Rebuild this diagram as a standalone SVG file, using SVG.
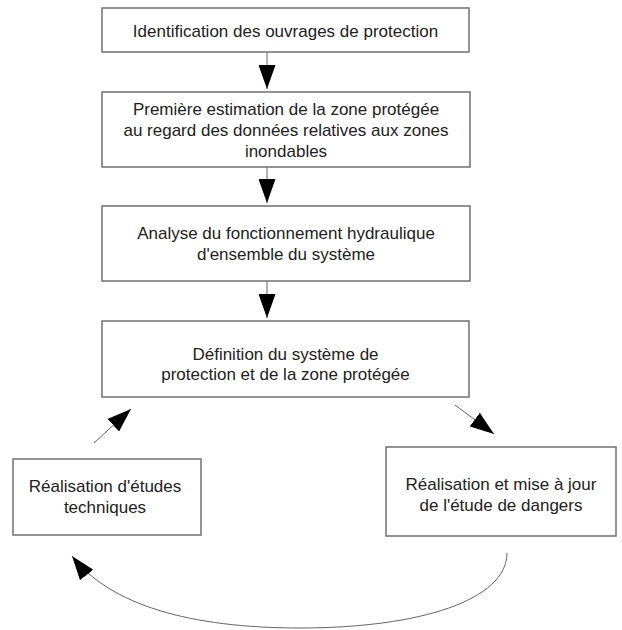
<svg xmlns="http://www.w3.org/2000/svg" width="622" height="630" viewBox="0 0 622 630">
<defs>
<style>
.box{fill:#fff;stroke:#707070;stroke-width:1.5}
.t{font-family:"Liberation Sans",Arial,sans-serif;font-size:17px;fill:#222;text-anchor:middle}
.c{fill:none;stroke:#666;stroke-width:1}
</style>
<marker id="ah" markerUnits="userSpaceOnUse" markerWidth="24" markerHeight="17" refX="24" refY="8.5" orient="auto" viewBox="0 0 24 17">
<path d="M0,0 L24,8.5 L0,17 Z" fill="#000"/>
</marker>
</defs>
<rect width="622" height="630" fill="#fff"/>
<g id="connectors">
<line class="c" x1="267" y1="52" x2="267" y2="89" marker-end="url(#ah)"/>
<line class="c" x1="267" y1="167" x2="267" y2="203" marker-end="url(#ah)"/>
<line class="c" x1="267" y1="281" x2="267" y2="318" marker-end="url(#ah)"/>
<line class="c" x1="94" y1="443" x2="131" y2="409" marker-end="url(#ah)"/>
<line class="c" x1="455" y1="405" x2="494" y2="434" marker-end="url(#ah)"/>
<path class="c" d="M507,553 C507,600 420,628 300,628 C190,628 110,605 72,556" marker-end="url(#ah)"/>
</g>
<g id="n1">
<rect class="box" x="102" y="8" width="367" height="44"/>
<text class="t" x="285.5" y="37">Identification des ouvrages de protection</text>
</g>
<g id="n2">
<rect class="box" x="102" y="92" width="368" height="75"/>
<text class="t" x="286" y="115">Première estimation de la zone protégée</text>
<text class="t" x="286" y="136">au regard des données relatives aux zones</text>
<text class="t" x="286" y="157">inondables</text>
</g>
<g id="n3">
<rect class="box" x="102" y="206" width="368" height="75"/>
<text class="t" x="286" y="239">Analyse du fonctionnement hydraulique</text>
<text class="t" x="286" y="260">d'ensemble du système</text>
</g>
<g id="n4">
<rect class="box" x="102" y="321" width="367" height="76"/>
<text class="t" x="285.5" y="360">Définition du système de</text>
<text class="t" x="285.5" y="380">protection et de la zone protégée</text>
</g>
<g id="n5">
<rect class="box" x="13" y="459" width="188" height="76"/>
<text class="t" x="105" y="492">Réalisation d'études</text>
<text class="t" x="105" y="513">techniques</text>
</g>
<g id="n6">
<rect class="box" x="386" y="447" width="230" height="89"/>
<text class="t" x="501" y="490">Réalisation et mise à jour</text>
<text class="t" x="501" y="511">de l'étude de dangers</text>
</g>
</svg>
